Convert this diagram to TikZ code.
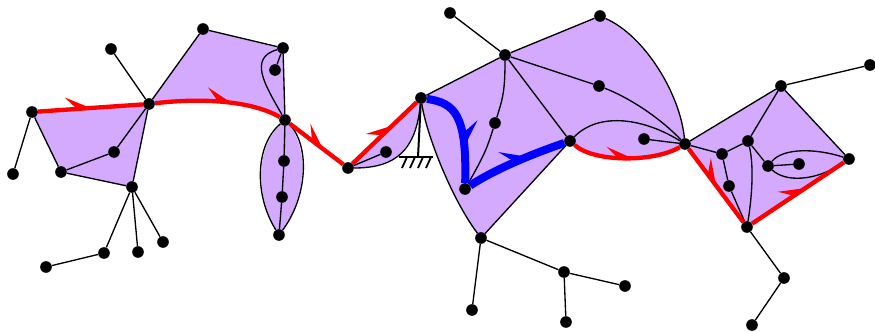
\documentclass[tikz,border=0pt]{standalone}
\usepackage{tikz}
\usetikzlibrary{arrows.meta,decorations.markings,backgrounds}
\definecolor{facecol}{RGB}{212,170,255}
\tikzset{
  vertex/.style={circle, fill=black, inner sep=0pt, minimum size=3.5mm},
  conn/.style={line width=0.4mm},
  face/.style={fill=facecol},
  walk/.style={red, line width=1.3mm},
  walkb/.style={blue, line width=2.4mm},
  barb/.style={postaction={decorate, decoration={markings,
    mark=at position #1 with {\arrow{Stealth[harpoon, line width=0pt, length=7.5mm, width=7.4mm, inset=3.4mm]}}}}},
  barbb/.style={postaction={decorate, decoration={markings,
    mark=at position #1 with {\arrow{Stealth[harpoon, line width=0pt, length=7.5mm, width=9.2mm, inset=3.4mm]}}}}},
}

\begin{document}
\begin{tikzpicture}[x=0.03cm, y=-0.03cm]
  \useasboundingbox (0,0) rectangle (875,331);

  % vertices, left part
  \node[vertex] (A1) at (32,112) {};
  \node[vertex] (A2) at (13,174) {};
  \node[vertex] (A3) at (61,172) {};
  \node[vertex] (A4) at (114,152) {};
  \node[vertex] (A5) at (149,104) {};
  \node[vertex] (A6) at (111,49) {};
  \node[vertex] (A7) at (132,187) {};
  \node[vertex] (A8) at (104,253) {};
  \node[vertex] (A9) at (46,267) {};
  \node[vertex] (A10) at (138,252) {};
  \node[vertex] (A11) at (163,242) {};
  \node[vertex] (B1) at (203,29) {};
  \node[vertex] (B2) at (283,48) {};
  \node[vertex] (B3) at (275,70) {};
  \node[vertex] (B4) at (285,120) {};
  \node[vertex] (B5) at (284,161) {};
  \node[vertex] (B6) at (282,197) {};
  \node[vertex] (B7) at (279,235) {};
  % vertices, middle part
  \node[vertex] (C1) at (348,168) {};
  \node[vertex] (C2) at (386,152) {};
  \node[vertex] (D1) at (421,98) {};
  \node[vertex] (D2) at (505,55) {};
  \node[vertex] (D3) at (450,13) {};
  \node[vertex] (D4) at (600,16) {};
  \node[vertex] (D5) at (599,86) {};
  \node[vertex] (D6) at (495,123) {};
  \node[vertex] (D7) at (465,189) {};
  \node[vertex] (D8) at (570,141) {};
  \node[vertex] (D9) at (481,238) {};
  \node[vertex] (D10) at (472,310) {};
  \node[vertex] (D11) at (564,272) {};
  \node[vertex] (D12) at (566,322) {};
  \node[vertex] (D13) at (625,286) {};
  \node[vertex] (E1) at (644,139) {};
  \node[vertex] (E2) at (685,144) {};
  % vertices, right part
  \node[vertex] (F1) at (781,86) {};
  \node[vertex] (F2) at (870,65) {};
  \node[vertex] (F3) at (849,159) {};
  \node[vertex] (F4) at (722,154) {};
  \node[vertex] (F5) at (748,141) {};
  \node[vertex] (F6) at (729,186) {};
  \node[vertex] (F7) at (768,166) {};
  \node[vertex] (F8) at (799,164) {};
  \node[vertex] (F9) at (747,227) {};
  \node[vertex] (F10) at (784,278) {};
  \node[vertex] (F11) at (752,325) {};
  \coordinate (gnd) at (418,157);

  % faces
  \begin{scope}[on background layer]
    \fill[face] (A1.center) -- (A5.center) -- (A7.center) -- (A3.center) -- cycle;
    \fill[face] (A5.center) -- (B1.center) -- (B2.center) -- (B4.center)
      .. controls +(-35,-20) and +(50,-6) .. (A5.center) -- cycle;
    \fill[face] (B4.center) .. controls +(-30,25) and +(-25,-40) .. (B7.center)
      .. controls +(29,-39) and +(25,25) .. (B4.center) -- cycle;
    \fill[face] (C1.center) -- (D1.center) .. controls +(-5,52) and +(48,0) .. (C1.center) -- cycle;
    \fill[face] (D1.center) -- (D2.center) -- (D4.center)
      .. controls +(45,20) and +(-5,-50) .. (E2.center)
      .. controls +(-30,18) and +(25,22) .. (D8.center) -- (D9.center)
      .. controls +(-30,-40) and +(5,35) .. (D1.center) -- cycle;
    \fill[face] (E2.center) -- (F1.center) -- (F3.center) -- (F9.center) -- cycle;
  \end{scope}

  % edges, left part
  \draw[conn] (A1) -- (A2);
  \draw[conn] (A1) -- (A3);
  \draw[conn] (A3) -- (A7);
  \draw[conn] (A7) -- (A5);
  \draw[conn] (A3) -- (A4);
  \draw[conn] (A4) -- (A5);
  \draw[conn] (A5) -- (A6);
  \draw[conn] (A7) -- (A8);
  \draw[conn] (A8) -- (A9);
  \draw[conn] (A7) -- (A10);
  \draw[conn] (A7) -- (A11);
  \draw[conn] (A5) -- (B1);
  \draw[conn] (B1) -- (B2);
  \draw[conn] (B2) -- (B3);
  \draw[conn] (B2) -- (B4);
  \draw[conn] (B2) .. controls +(-35,10) and +(-20,-35) .. (B4);
  \draw[conn] (B4) .. controls +(-30,25) and +(-25,-40) .. (B7);
  \draw[conn] (B4) .. controls +(25,25) and +(29,-39) .. (B7);
  \draw[conn] (B4) -- (B5);
  \draw[conn] (B5) -- (B6);
  \draw[conn] (B6) -- (B7);

  % edges, middle part
  \draw[conn] (C1) -- (C2);
  \draw[conn] (C1) .. controls +(48,0) and +(-5,52) .. (D1);
  \draw[line width=0.6mm] (D1) -- (gnd);
  \draw[line width=0.7mm] (gnd) ++(-19,0) -- ++(34,0);
  \draw[line width=0.55mm] (gnd) ++(-11,0) -- ++(-5,11) (gnd) ++(-3,0) -- ++(-5,11)
    (gnd) ++(5,0) -- ++(-5,11) (gnd) ++(13,0) -- ++(-5,11);
  \draw[conn] (D1) -- (D2);
  \draw[conn] (D2) -- (D3);
  \draw[conn] (D2) -- (D4);
  \draw[conn] (D2) -- (D5);
  \draw[conn] (D2) -- (D8);
  \draw[conn] (D2) .. controls +(0,35) and +(8,-25) .. (D6);
  \draw[conn] (D6) .. controls +(-8,25) and +(20,-35) .. (D7);
  \draw[conn] (D1) .. controls +(5,35) and +(-30,-40) .. (D9);
  \draw[conn] (D8) -- (D9);
  \draw[conn] (D9) -- (D10);
  \draw[conn] (D9) -- (D11);
  \draw[conn] (D11) -- (D12);
  \draw[conn] (D11) -- (D13);
  \draw[conn] (D4) .. controls +(45,20) and +(-5,-50) .. (E2);
  \draw[conn] (D5) .. controls +(31,12) and +(-25,-26) .. (E2);
  \draw[conn] (D8) .. controls +(30,-30) and +(-40,-25) .. (E2);
  \draw[conn] (E1) -- (E2);

  % edges, right part
  \draw[conn] (E2) -- (F1);
  \draw[conn] (F1) -- (F2);
  \draw[conn] (F1) -- (F3);
  \draw[conn] (E2) -- (F4);
  \draw[conn] (F4) -- (F5);
  \draw[conn] (F5) -- (F1);
  \draw[conn] (F4) -- (F6);
  \draw[conn] (F6) -- (F9);
  \draw[conn] (F5) .. controls +(6,25) and +(5,-30) .. (F9);
  \draw[conn] (F5) -- (F7);
  \draw[conn] (F7) -- (F8);
  \draw[conn] (F7) .. controls +(15,-18) and +(-34,-11) .. (F3);
  \draw[conn] (F7) .. controls +(17,16) and +(-34,23) .. (F3);
  \draw[conn] (F9) -- (F10);
  \draw[conn] (F10) -- (F11);

  % the walk
  \draw[walk, barb=0.5] (A1) -- (A5);
  \draw[walk, barb=0.6] (A5) .. controls +(50,-6) and +(-35,-20) .. (B4);
  \draw[walk, barb=0.62] (B4) -- (C1);
  \draw[walk, barb=0.62] (C1) -- (D1);
  \draw[walkb, barbb=0.65] (D1) .. controls +(34,5) and +(2,-74) .. (D7);
  \draw[walkb, barbb=0.62] (D7) .. controls +(30,-20) and +(-35,12) .. (D8);
  \draw[walk, barb=0.55] (D8) .. controls +(25,22) and +(-30,18) .. (E2);
  \draw[walk, barb=0.5] (E2) -- (F9);
  \draw[walk, barb=0.58] (F9) -- (F3);
\end{tikzpicture}
\end{document}
